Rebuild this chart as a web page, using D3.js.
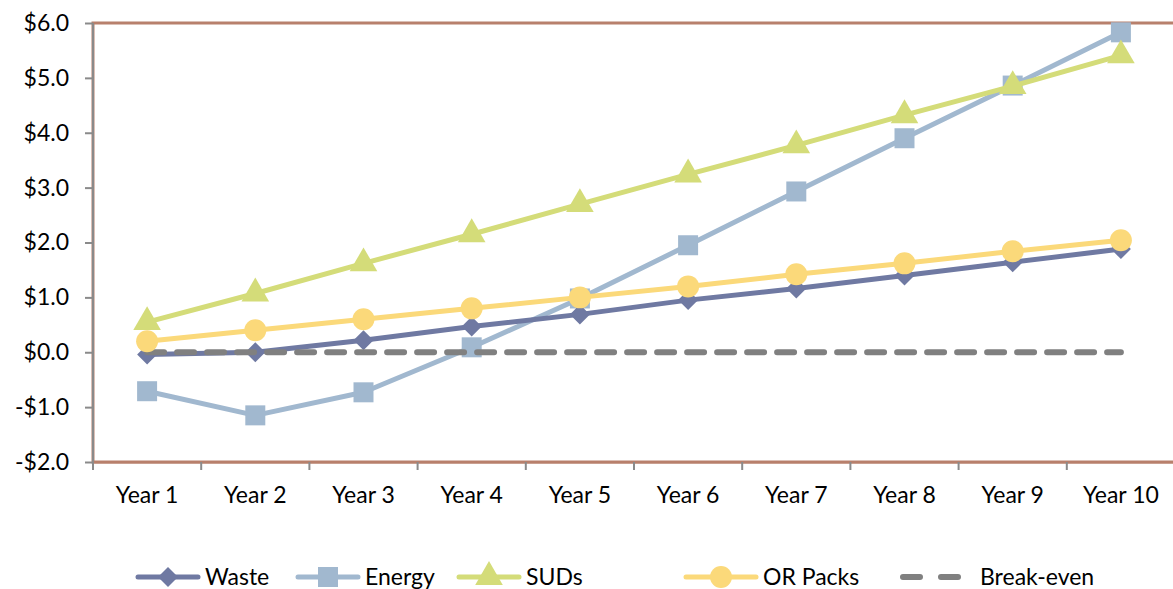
<!DOCTYPE html>
<html>
<head>
<meta charset="utf-8">
<script src="https://cdn.jsdelivr.net/npm/d3@7"></script>
<style>
  body { margin: 0; background: #fff; }
  svg { display: block; font-family: Lato, "Open Sans", sans-serif; }
</style>
</head>
<body>
<svg id="chart"></svg>
<script>
const years = ['Year 1', 'Year 2', 'Year 3', 'Year 4', 'Year 5', 'Year 6', 'Year 7', 'Year 8', 'Year 9', 'Year 10']
const waste = [-0.04, 0.0, 0.22, 0.47, 0.69, 0.95, 1.16, 1.40, 1.64, 1.88]
const energy = [-0.71, -1.15, -0.73, 0.09, 0.98, 1.95, 2.93, 3.90, 4.86, 5.83]
const suds = [0.55, 1.07, 1.62, 2.15, 2.70, 3.24, 3.77, 4.32, 4.85, 5.41]
const orPacks = [0.2, 0.4, 0.6, 0.8, 1.0, 1.2, 1.42, 1.62, 1.84, 2.04]
const breakEven = [0, 0, 0, 0, 0, 0, 0, 0, 0, 0]
const yTicks = [-2, -1, 0, 1, 2, 3, 4, 5, 6]

const series = [
  { name: 'Waste', values: waste, color: '#6f79a2', marker: 'diamond' },
  { name: 'Energy', values: energy, color: '#a1b8cf', marker: 'square' },
  { name: 'SUDs', values: suds, color: '#d4dc79', marker: 'triangle' },
  { name: 'OR Packs', values: orPacks, color: '#fbd97a', marker: 'circle' },
  { name: 'Break-even', values: breakEven, color: '#808080', marker: null, dash: '17,13' }
]

const svgWidth = 1173
const svgHeight = 589
const margin = { top: 23, right: -2, bottom: 127, left: 93 }
const width = svgWidth - margin.left - margin.right
const height = svgHeight - margin.top - margin.bottom

const svg = d3.select('#chart')
  .attr('width', svgWidth)
  .attr('height', svgHeight)

const g = svg.append('g')
  .attr('transform', `translate(${margin.left}, ${margin.top})`)

const x = d3.scaleBand().domain(years).range([0, width])
const y = d3.scaleLinear().domain([-2, 6]).range([height, 0])

// plot border
g.append('rect')
  .attr('width', width)
  .attr('height', height)
  .attr('fill', 'none')
  .attr('stroke', '#b8806c')
  .attr('stroke-width', 3)

// axes
const yAxis = d3.axisLeft(y)
  .tickValues(yTicks)
  .tickSize(8)
  .tickPadding(16)
  .tickFormat(d => (d < 0 ? '-$' : '$') + Math.abs(d).toFixed(1))

const yG = g.append('g').call(yAxis).attr('font-family', null)
yG.select('.domain').attr('stroke', '#8a8a8a').attr('stroke-width', 2).attr('d', `M0,${height}V0`)
yG.selectAll('.tick line').attr('stroke', '#8a8a8a').attr('stroke-width', 2)
yG.selectAll('.tick text').attr('font-size', 23).attr('fill', '#000')

const xAxis = d3.axisBottom(x).tickSize(0).tickPadding(25)
const xG = g.append('g')
  .attr('transform', `translate(0, ${height})`)
  .call(xAxis)
  .attr('font-family', null)
xG.select('.domain').attr('stroke', '#b8806c').attr('stroke-width', 2)
xG.selectAll('.tick text').attr('font-size', 23).attr('fill', '#000')

// x ticks at band boundaries
xG.selectAll('.bound')
  .data(years)
  .enter().append('line')
  .attr('x1', d => x(d)).attr('x2', d => x(d))
  .attr('y1', 0).attr('y2', 8)
  .attr('stroke', '#8a8a8a').attr('stroke-width', 2)

const cx = d => x(d) + x.bandwidth() / 2
const line = d3.line()
  .x(d => cx(d.year))
  .y(d => y(d.value))

function markerPath (type) {
  const sizes = { diamond: 200, square: 400, triangle: 330, circle: 380 }
  const symbols = { diamond: d3.symbolSquare, square: d3.symbolSquare, triangle: d3.symbolTriangle, circle: d3.symbolCircle }
  return d3.symbol().type(symbols[type]).size(sizes[type])()
}
const markerRotate = type => (type === 'diamond' ? ' rotate(45)' : '')

const drawOrder = [1, 2, 0, 4, 3]
for (const i of drawOrder) {
  const s = series[i]
  const data = s.values.map((v, j) => ({ year: years[j], value: v }))
  g.append('path')
    .datum(data)
    .attr('fill', 'none')
    .attr('stroke', s.color)
    .attr('stroke-width', s.marker ? 5 : 6)
    .attr('stroke-dasharray', s.dash || null)
    .attr('stroke-linecap', s.dash ? 'round' : 'butt')
    .attr('stroke-linejoin', 'round')
    .attr('d', line)
  if (s.marker) {
    g.selectAll(null)
      .data(data)
      .enter().append('path')
      .attr('d', markerPath(s.marker))
      .attr('transform', d => `translate(${cx(d.year)}, ${y(d.value)})` + markerRotate(s.marker))
      .attr('fill', s.color)
  }
}

// legend
const legendY = 577
const legendItems = [
  { x1: 138, x2: 198, tx: 205 },
  { x1: 298, x2: 358, tx: 365 },
  { x1: 459, x2: 519, tx: 526 },
  { x1: 686, x2: 756, tx: 763 },
  { x1: 903, x2: 963, tx: 980 }
]
const legend = svg.append('g')
series.forEach((s, i) => {
  const it = legendItems[i]
  const lg = legend.append('g')
  if (s.dash) {
    lg.append('line')
      .attr('x1', it.x1).attr('x2', it.x2 + 1)
      .attr('y1', legendY).attr('y2', legendY)
      .attr('stroke', s.color).attr('stroke-width', 6)
      .attr('stroke-linecap', 'round')
      .attr('stroke-dasharray', '17,21')
  } else {
    lg.append('line')
      .attr('x1', it.x1).attr('x2', it.x2)
      .attr('y1', legendY).attr('y2', legendY)
      .attr('stroke', s.color).attr('stroke-width', 5)
      .attr('stroke-linecap', 'round')
    lg.append('path')
      .attr('d', markerPath(s.marker))
      .attr('transform', `translate(${(it.x1 + it.x2) / 2}, ${legendY})` + markerRotate(s.marker))
      .attr('fill', s.color)
  }
  lg.append('text')
    .attr('x', it.tx)
    .attr('y', legendY + 8)
    .attr('font-size', 23)
    .attr('fill', '#000')
    .text(s.name)
})
</script>
</body>
</html>
